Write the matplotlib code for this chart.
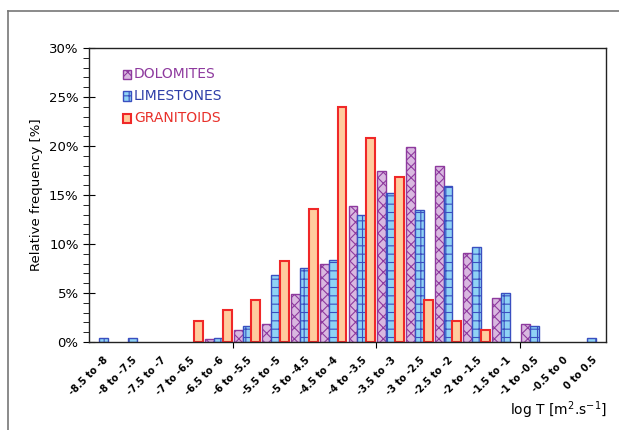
import matplotlib
matplotlib.use("Agg")
import matplotlib.pyplot as plt
from matplotlib.lines import Line2D
from matplotlib.patches import Rectangle
import numpy as np

# log T classes
categories = ["-8.5 to -8", "-8 to -7.5", "-7.5 to -7", "-7 to -6.5", "-6.5 to -6",
              "-6 to -5.5", "-5.5 to -5", "-5 to -4.5", "-4.5 to -4", "-4 to -3.5",
              "-3.5 to -3", "-3 to -2.5", "-2.5 to -2", "-2 to -1.5", "-1.5 to -1",
              "-1 to -0.5", "-0.5 to 0", "0 to 0.5"]

# relative frequency [%]
dolomites = [0, 0, 0, 0, 0.3, 1.2, 1.8, 4.9, 8.0, 13.9, 17.5, 19.9, 18.0, 9.1, 4.5, 1.8, 0, 0]
limestones = [0.4, 0.4, 0, 0, 0.45, 1.6, 6.8, 7.6, 8.4, 13.0, 15.2, 13.5, 15.9, 9.7, 5.0, 1.6, 0, 0.4]
granitoids = [0, 0, 0, 2.1, 3.3, 4.3, 8.3, 13.6, 24.0, 20.8, 16.8, 4.3, 2.1, 1.2, 0, 0, 0, 0]

series_names = ["DOLOMITES", "LIMESTONES", "GRANITOIDS"]

plt.rcParams['hatch.linewidth'] = 0.8


def nz(vals):
    # empty classes get no bar at all (no edge line on the axis)
    v = np.array(vals, dtype=float)
    return np.where(v > 0, v, np.nan)


fig = plt.figure(figsize=(6.19, 4.30), dpi=100)
ax = fig.add_axes([89/619, 88/430, 517/619, 294/430])

x = np.arange(len(categories))
w = 0.31

ax.bar(x - w, nz(dolomites), w, facecolor="#d9b8e0", edgecolor="#8e3a9e",
       hatch="xxx", linewidth=1.0)
ax.bar(x, nz(limestones), w, facecolor="#8fd3f5", edgecolor="#3a4fc0",
       hatch="++", linewidth=1.0)
ax.bar(x + w, nz(granitoids), w, facecolor="#ffcc9e", edgecolor="#f02828",
       linewidth=1.5)

ax.set_xlim(-0.5, len(categories) - 0.5)
ax.set_ylim(0, 30)

ax.set_yticks(np.arange(0, 31, 5))
ax.set_yticklabels([f"{v}%" for v in range(0, 31, 5)], fontsize=9.5)
ax.set_yticks(np.arange(0, 31, 1), minor=True)
ax.tick_params(axis="y", which="major", direction="inout", length=8, width=0.8)
ax.tick_params(axis="y", which="minor", direction="out", length=4, width=0.6)

ax.set_xticks(x)
ax.set_xticklabels(categories, rotation=45, ha="right", va="top",
                   rotation_mode="anchor", fontsize=7, fontweight="bold")
ax.set_xticks([4.5, 9.5, 14.5], minor=True)
ax.tick_params(axis="x", which="major", length=0, pad=9)
ax.tick_params(axis="x", which="minor", direction="out", length=4, width=0.8)

for s in ax.spines.values():
    s.set_linewidth(1.0)
    s.set_color("#222222")

ax.set_ylabel("Relative frequency [%]", fontsize=9.5, labelpad=4)
fig.text(607/619, 1 - 410/430, "log T [m$^2$.s$^{-1}$]", ha="right", va="center",
         fontsize=10)

# legend drawn by hand in axes coordinates
leg_colors = [("#d9b8e0", "#8e3a9e", "xxx", "#8e3a9e", 1.0),
              ("#8fd3f5", "#3a4fc0", "++", "#2f3fa8", 1.0),
              ("#ffcc9e", "#f02828", None, "#e8302a", 1.5)]
ys = [74, 96, 118]
for name, (fc, ec, hatch, tc, lw), yp in zip(series_names, leg_colors, ys):
    ya = (342 - yp) / 294
    ax.add_patch(Rectangle(((123 - 89) / 517, ya - 4.5 / 294), 8 / 517, 9 / 294,
                           transform=ax.transAxes, facecolor=fc, edgecolor=ec,
                           hatch=hatch, linewidth=lw))
    ax.text((134 - 89) / 517, ya, name, transform=ax.transAxes, color=tc,
            fontsize=10, va="center", ha="left", family="Liberation Sans Narrow")

# outer frame (top and left only)
fig.add_artist(Line2D([8/619, 1], [1 - 11/430, 1 - 11/430], color="#777777", lw=1.2))
fig.add_artist(Line2D([8/619, 8/619], [0, 1 - 11/430], color="#777777", lw=1.2))

fig.savefig("out.png", dpi=100)
